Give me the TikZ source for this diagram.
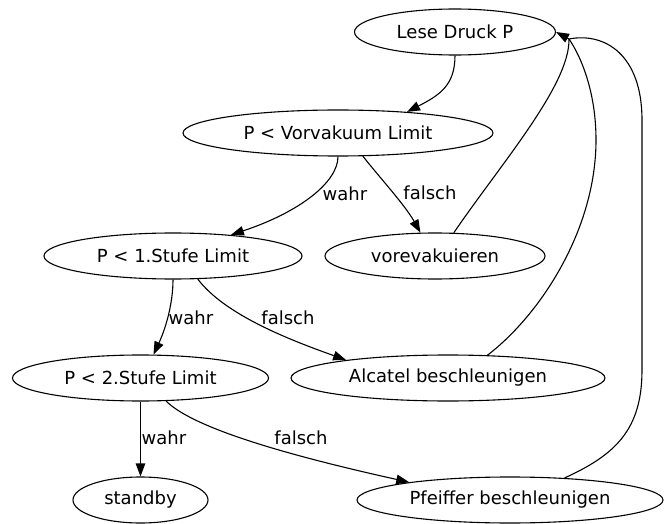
\documentclass[tikz,border=0pt]{standalone}
\usepackage{fontspec}
\setmainfont{DejaVu Sans}
\usetikzlibrary{shapes.geometric, arrows.meta}

\begin{document}
\begin{tikzpicture}[x = 1pt, y = -1pt,
    state/.style = {ellipse, draw, line width = 1.1pt, inner sep = 0pt, minimum height = 46pt,
                    font = \fontsize{18}{22}\selectfont},
    flow/.style  = {line width = 1.1pt, -{Triangle[length = 13pt, width = 9.5pt]}},
    lbl/.style   = {inner sep = 0pt, font = \fontsize{18}{22}\selectfont}]
    \useasboundingbox (0,0) rectangle (665,524);

    % states, one rank per row
    \node [state, minimum width = 201pt] (lese)     at (455,32)    {Lese Druck P};
    \node [state, minimum width = 310pt] (vorvak)   at (338,133)   {P < Vorvakuum Limit};
    \node [state, minimum width = 258pt] (stufeA)   at (173,256)   {P < 1.Stufe Limit};
    \node [state, minimum width = 220pt] (voreva)   at (435,256)   {vorevakuieren};
    \node [state, minimum width = 256pt] (stufeB)   at (140.5,378) {P < 2.Stufe Limit};
    \node [state, minimum width = 314pt] (alcatel)  at (448,378)   {Alcatel beschleunigen};
    \node [state, minimum width = 135pt] (standby)  at (140.5,500) {standby};
    \node [state, minimum width = 306pt] (pfeiffer) at (510,500)   {Pfeiffer beschleunigen};

    % forward edges
    \draw [flow] (lese.south) .. controls (455,85) and (440,95) .. (vorvak.17);
    \draw [flow] (vorvak.south) .. controls (338,182) and (300,212) .. (stufeA.20);
    \draw [flow] (vorvak.-43) .. controls (380,178) and (405,205) .. (voreva.122);
    \draw [flow] (stufeA.south) .. controls (173,305) and (165,330) .. (stufeB.61);
    \draw [flow] (stufeA.-43) .. controls (225,315) and (290,340) .. (alcatel.170);
    \draw [flow] (stufeB) -- (standby);
    \draw [flow] (stufeB.-42) .. controls (195,430) and (300,458) .. (pfeiffer.170);

    % back to the start, all three meet in one head
    \coordinate (backin) at (569,39);
    \draw [line width = 1.1pt] (voreva.51) .. controls (500,165) and (570,85) .. (backin);
    \draw [line width = 1.1pt] (alcatel.30) .. controls (540,315) and (596,230) .. (596,140)
                 .. controls (596,90) and (580,55) .. (backin);
    \draw [line width = 1.1pt] (pfeiffer.22) .. controls (615,455) and (642,430) .. (642,370) -- (642,120)
                 .. controls (642,55) and (605,32) .. (backin);
    \draw [flow] (backin) -- (lese.east);

    % edge labels
    \node [lbl] (wahrA)   at (345,194) {wahr};
    \node [lbl] (falschA) at (430,193) {falsch};
    \node [lbl] (wahrB)   at (191,318) {wahr};
    \node [lbl] (falschB) at (288,318) {falsch};
    \node [lbl] (wahrC)   at (164,438) {wahr};
    \node [lbl] (falschC) at (301,438) {falsch};
\end{tikzpicture}
\end{document}
